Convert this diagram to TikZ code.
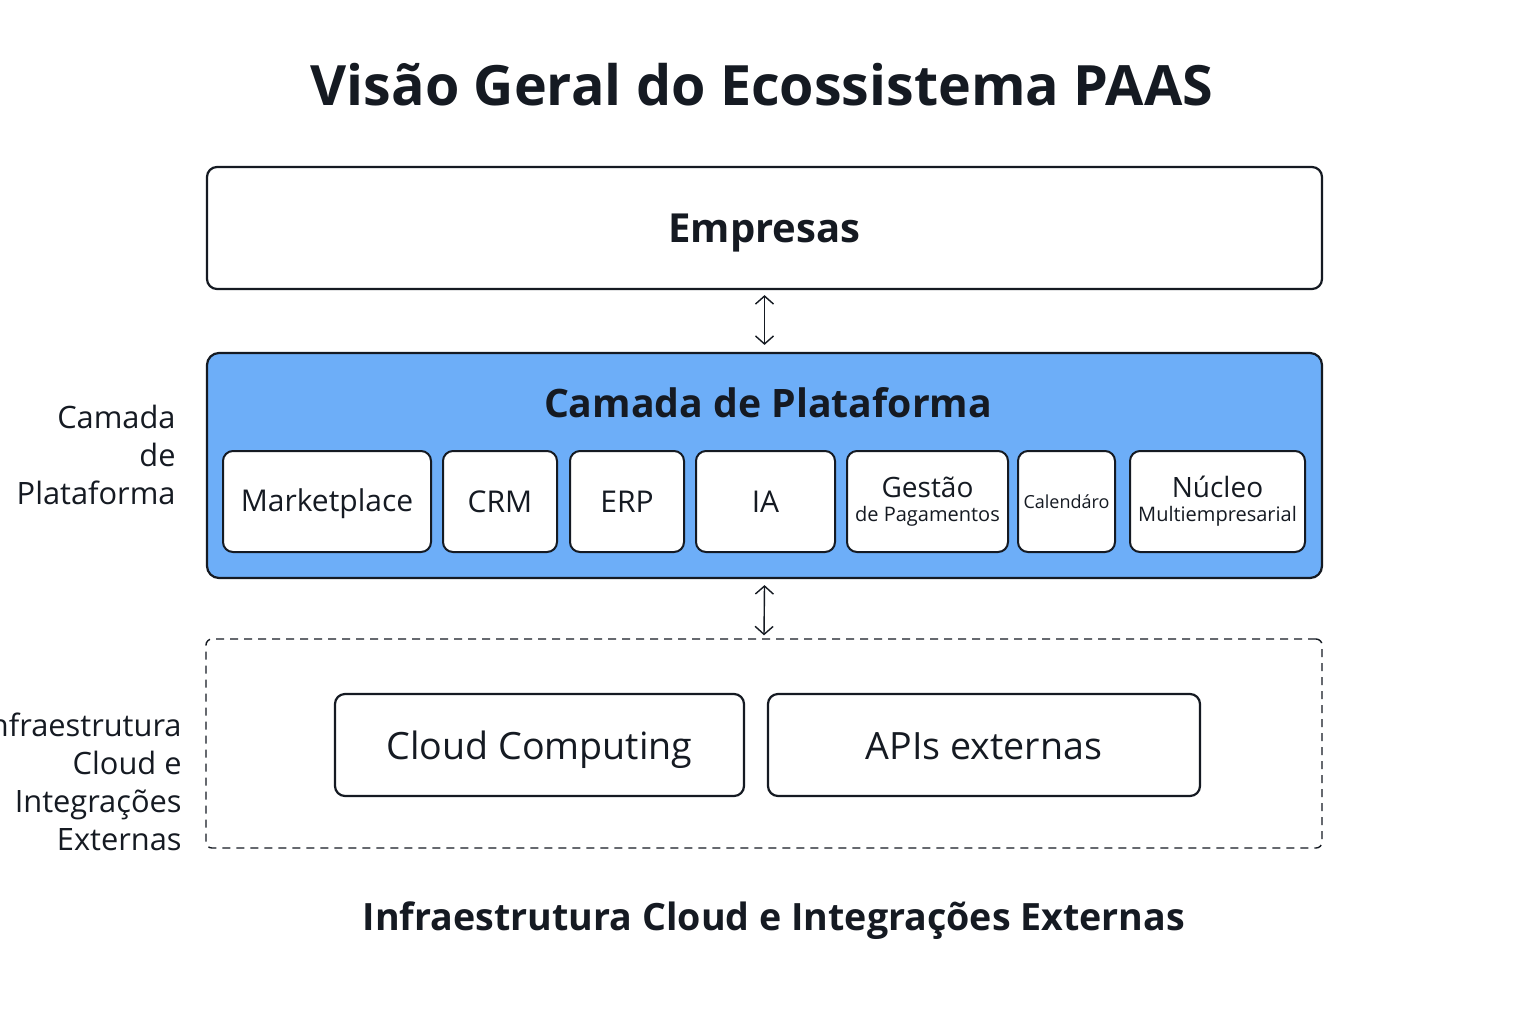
\documentclass[tikz,border=0pt]{standalone}
\usepackage{fontspec}
\setmainfont{Open Sans}
\usetikzlibrary{arrows.meta}
\definecolor{platblue}{HTML}{6DAEF8}
\definecolor{inkc}{HTML}{151A22}
\tikzset{
  box/.style={draw=inkc, line width=1.1pt, rounded corners=5pt, fill=white, text=inkc},
  inner/.style={box, line width=1pt, rounded corners=5pt, minimum height=50.5pt, align=center, inner sep=0pt},
  lbl/.style={text=inkc, inner sep=0pt},
  dbl/.style={draw=inkc, line width=0.7pt, {Straight Barb[length=4pt,width=9pt]}-{Straight Barb[length=4pt,width=9pt]}},
  side/.style={text=inkc, align=right, font=\fontsize{15.4}{19}\selectfont, anchor=east, inner sep=0pt},
}
\begin{document}
\begin{tikzpicture}[x=0.5pt,y=-0.5pt]
\useasboundingbox (0,0) rectangle (1536,1024);
\fill[white] (0,0) rectangle (1536,1024);
% title
\node[text=inkc, font=\fontsize{27.8}{33}\selectfont\bfseries] (title) at (762,85) {Visão Geral do Ecossistema PAAS};
% Empresas
\node[box, minimum width=557.5pt, minimum height=61pt] (emp) at (764.5,228) {};
\node[text=inkc, font=\fontsize{20}{24}\selectfont\bfseries] (emptext) at (764.5,233) {Empresas};
% platform
\node[box, fill=platblue, rounded corners=6pt, minimum width=557.5pt, minimum height=112.5pt] (plat) at (764.5,465.5) {};
\node[text=inkc, font=\fontsize{19.6}{24}\selectfont\bfseries] (plattitle) at (768,403) {Camada de Plataforma};
\node[inner, minimum width=104pt] (mkt) at (327,501.5) {};
\node[lbl, font=\fontsize{15}{18}\selectfont] at ([yshift=-1.2pt]mkt.center) {Marketplace};
\node[inner, minimum width=57pt, font=\fontsize{15}{18}\selectfont] (crm) at (500,501.5) {CRM};
\node[inner, minimum width=57pt, font=\fontsize{15}{18}\selectfont] (erp) at (627,501.5) {ERP};
\node[inner, minimum width=69.5pt, font=\fontsize{15}{18}\selectfont] (ia) at (765.5,501.5) {IA};
\node[inner, minimum width=80.5pt] (gest) at (927.5,501.5) {{\fontsize{14}{15}\selectfont Gestão}\\[0pt]{\fontsize{10}{12}\selectfont de Pagamentos}};
\node[inner, minimum width=48.5pt, font=\fontsize{9}{10}\selectfont] (cal) at (1066.5,501.5) {Calendáro};
\node[inner, minimum width=87.5pt] (nuc) at (1217.5,501.5) {{\fontsize{14}{15}\selectfont Núcleo}\\[0pt]{\fontsize{10}{12}\selectfont Multiempresarial}};
% infra
\node[draw=inkc, line width=0.7pt, dash pattern=on 4pt off 3pt, rounded corners=3pt, minimum width=558pt, minimum height=104.5pt] (infra) at (764,743.5) {};
\node[box, minimum width=204.5pt, minimum height=51pt] (cloud) at (539.5,745) {};
\node[lbl, font=\fontsize{18.8}{24}\selectfont] at ([yshift=-2.5pt]cloud.center) {Cloud Computing};
\node[box, minimum width=216pt, minimum height=51pt] (apis) at (984,745) {};
\node[lbl, font=\fontsize{18.8}{24}\selectfont] at ([yshift=-0.5pt]apis.center) {APIs externas};
% arrows
\draw[dbl] ([yshift=-2.5pt]emp.south) -- ([yshift=3.5pt]plat.north);
\draw[dbl] ([yshift=-3pt]plat.south) -- ([yshift=1.5pt]infra.north);
% caption
\node[text=inkc, font=\fontsize{18.8}{24}\selectfont\bfseries] (cap) at (774,921) {Infraestrutura Cloud e Integrações Externas};
% side labels
\node[side] (lplat) at (176,455) {Camada\\de\\Plataforma};
\node[side] (linfra) at (182,782) {Infraestrutura\\Cloud e\\Integrações\\Externas};
\end{tikzpicture}
\end{document}
